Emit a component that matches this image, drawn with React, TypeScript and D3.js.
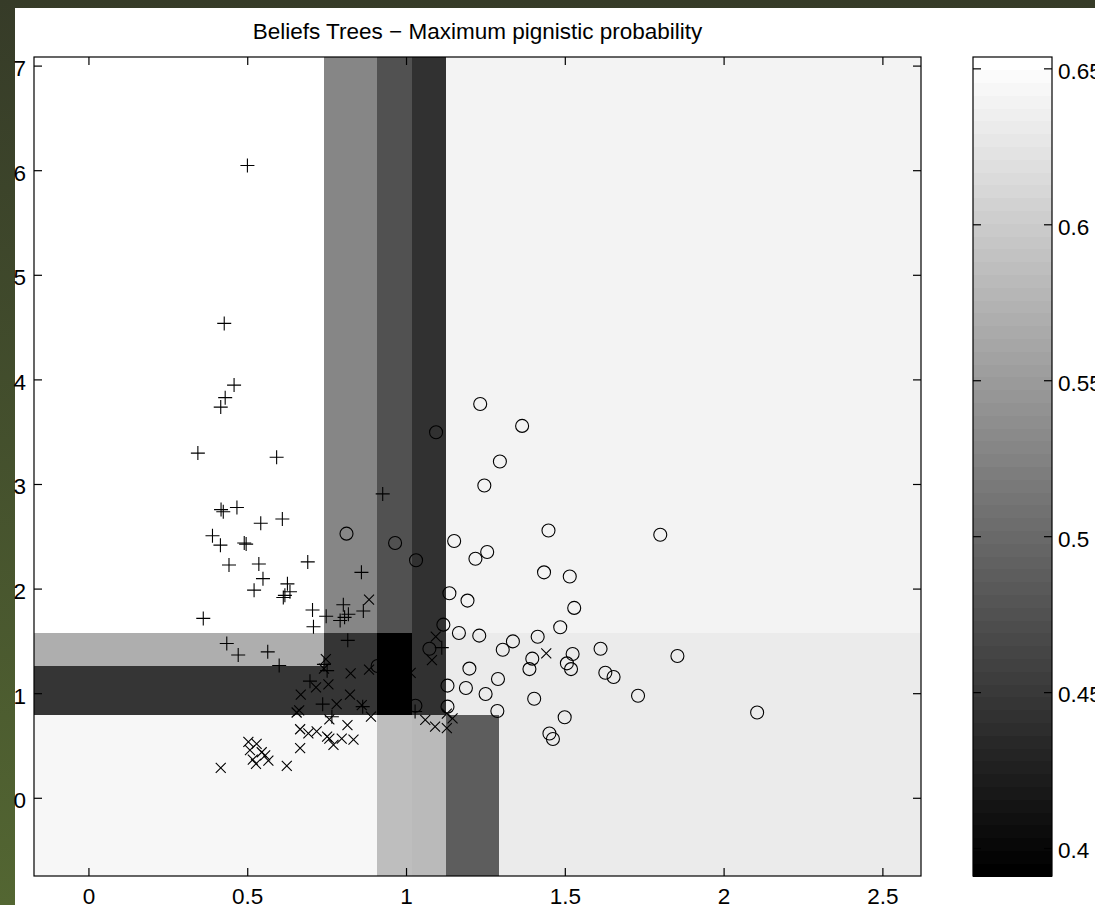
import * as d3 from 'd3';

// axis ticks
const xTicks = [0, 0.5, 1, 1.5, 2, 2.5];
const yTicks = [0, 1, 2, 3, 4, 5, 6, 7];
const cbTicks = [0.4, 0.45, 0.5, 0.55, 0.6, 0.65];

// axis limits
const xDomain = [-0.173, 2.62];
const yDomain = [-0.743, 7.087];

// tree split points
const xSplits = [0.739, 0.906, 1.016, 1.125, 1.292];
const ySplits = [0.8, 1.268, 1.583];

// maximum pignistic probability per cell, rows from bottom to top
const cellRow0 = [0.643, 0.643, 0.586, 0.582, 0.488, 0.631];
const cellRow1 = [0.447, 0.447, 0.3912, 0.443, 0.631, 0.631];
const cellRow2 = [0.57, 0.447, 0.3912, 0.443, 0.631, 0.631];
const cellRow3 = [0.6538, 0.529, 0.475, 0.443, 0.639, 0.639];

// class 1 (+)
const plusPts: [number, number][] = [
  [0.499, 6.05], [0.426, 4.54], [0.457, 3.95], [0.429, 3.83], [0.415, 3.74],
  [0.343, 3.3], [0.591, 3.26], [0.416, 2.76], [0.423, 2.74], [0.466, 2.78],
  [0.541, 2.63], [0.609, 2.67], [0.389, 2.51], [0.414, 2.42], [0.489, 2.44],
  [0.495, 2.43], [0.441, 2.23], [0.535, 2.24], [0.689, 2.26], [0.548, 2.1],
  [0.52, 1.99], [0.625, 2.05], [0.633, 1.975], [0.617, 1.94], [0.612, 1.92],
  [0.858, 2.16], [0.925, 2.91], [0.36, 1.72], [0.704, 1.8], [0.707, 1.64],
  [0.747, 1.74], [0.801, 1.85], [0.817, 1.76], [0.791, 1.7], [0.805, 1.73],
  [0.864, 1.79], [0.815, 1.51], [0.434, 1.48], [0.47, 1.37], [0.563, 1.4],
  [0.599, 1.27], [0.74, 1.28], [0.75, 1.22], [0.696, 1.12], [0.736, 0.9],
  [0.862, 0.876], [0.765, 0.78], [1.027, 0.83], [1.111, 1.44],
];

// class 2 (x)
const crossPts: [number, number][] = [
  [0.882, 1.9], [0.746, 1.33], [0.74, 1.24], [0.824, 1.195], [0.882, 1.23],
  [0.715, 1.06], [0.754, 1.09], [0.667, 0.99], [0.822, 0.99], [0.78, 0.9],
  [0.654, 0.82], [0.662, 0.84], [0.859, 0.89], [0.888, 0.78], [1.013, 1.2],
  [0.757, 0.755], [0.665, 0.66], [0.691, 0.62], [0.717, 0.64], [0.757, 0.57],
  [0.77, 0.51], [0.75, 0.59], [0.796, 0.57], [0.814, 0.7], [0.833, 0.56],
  [0.665, 0.48], [0.502, 0.54], [0.528, 0.52], [0.507, 0.46], [0.544, 0.44],
  [0.555, 0.41], [0.516, 0.37], [0.526, 0.33], [0.565, 0.36], [0.415, 0.29],
  [0.623, 0.31], [1.059, 0.75], [1.09, 0.685], [1.127, 0.67], [1.145, 0.765],
  [1.127, 0.81], [1.08, 1.32], [1.092, 1.545], [1.44, 1.386],
];

// class 3 (o)
const circlePts: [number, number][] = [
  [1.232, 3.77], [1.364, 3.56], [1.093, 3.5], [1.294, 3.22], [1.245, 2.99],
  [0.811, 2.53], [0.964, 2.44], [1.03, 2.275], [1.15, 2.46], [1.217, 2.29],
  [1.254, 2.355], [1.447, 2.56], [1.799, 2.52], [1.433, 2.16], [1.514, 2.12],
  [1.135, 1.96], [1.192, 1.89], [1.528, 1.82], [1.116, 1.66], [1.484, 1.635],
  [1.165, 1.58], [1.229, 1.555], [1.335, 1.5], [1.413, 1.545], [1.303, 1.42],
  [1.072, 1.43], [1.611, 1.43], [1.396, 1.335], [1.523, 1.38], [1.505, 1.29],
  [1.518, 1.235], [1.387, 1.235], [1.198, 1.24], [1.626, 1.2], [1.652, 1.16],
  [1.853, 1.36], [1.129, 1.077], [1.187, 1.055], [1.288, 1.14], [1.249, 0.997],
  [1.402, 0.952], [1.729, 0.98], [1.129, 0.876], [1.286, 0.835], [1.498, 0.775],
  [1.45, 0.62], [1.461, 0.567], [1.028, 0.885], [0.909, 1.265], [2.104, 0.82],
];

const W = 1095;
const H = 905;
const FONT = '"Liberation Sans", Arial, Helvetica, sans-serif';

const plot = { left: 34, right: 921, top: 57, bottom: 876 };
const cb = { left: 973, right: 1052 };

export default function App() {
  const x = d3.scaleLinear().domain(xDomain).range([plot.left, plot.right]);
  const y = d3.scaleLinear().domain(yDomain).range([plot.bottom, plot.top]);

  const rows = [cellRow0, cellRow1, cellRow2, cellRow3];
  const allVals = rows.flat();
  const [cmin, cmax] = d3.extent(allVals) as [number, number];

  // matlab gray(64)
  const nLev = 64;
  const grays = d3.range(nLev).map(i => {
    const g = Math.round((i / (nLev - 1)) * 255);
    return `rgb(${g},${g},${g})`;
  });
  const color = d3.scaleQuantize<string>().domain([cmin, cmax]).range(grays);
  const cy = d3.scaleLinear().domain([cmin, cmax]).range([plot.bottom, plot.top]);

  const xEdges = [xDomain[0], ...xSplits, xDomain[1]];
  const yEdges = [yDomain[0], ...ySplits, yDomain[1]];

  const cells: { x0: number; x1: number; y0: number; y1: number; v: number }[] = [];
  rows.forEach((row, i) => {
    row.forEach((v, j) => {
      cells.push({ x0: xEdges[j], x1: xEdges[j + 1], y0: yEdges[i], y1: yEdges[i + 1], v });
    });
  });

  const step = (cmax - cmin) / nLev;
  const tickLen = 8;

  return (
    <svg width={W} height={H} style={{ position: 'absolute', left: 0, top: 0, display: 'block' }}
      fontFamily={FONT}>
      <defs>
        <linearGradient id="desk" x1="0" y1="0" x2="0" y2="1">
          <stop offset="0%" stopColor="#363b28" />
          <stop offset="100%" stopColor="#536632" />
        </linearGradient>
      </defs>
      <rect x={0} y={0} width={W} height={H} fill="url(#desk)" />
      <rect x={15} y={8} width={W - 15} height={H - 8} fill="#ffffff" />

      {/* tree cells */}
      {cells.map((c, i) => (
        <rect key={'c' + i}
          x={x(c.x0)} y={y(c.y1)}
          width={x(c.x1) - x(c.x0)} height={y(c.y0) - y(c.y1)}
          fill={color(c.v)} shapeRendering="crispEdges" />
      ))}

      {/* points */}
      <g stroke="#000" strokeWidth={1.1} fill="none">
        {plusPts.map(([px, py], i) => (
          <path key={'p' + i}
            d={`M${x(px) - 7},${y(py)}H${x(px) + 7}M${x(px)},${y(py) - 7}V${y(py) + 7}`} />
        ))}
        {crossPts.map(([px, py], i) => (
          <path key={'x' + i}
            d={`M${x(px) - 5},${y(py) - 5}L${x(px) + 5},${y(py) + 5}M${x(px) - 5},${y(py) + 5}L${x(px) + 5},${y(py) - 5}`} />
        ))}
        {circlePts.map(([px, py], i) => (
          <circle key={'o' + i} cx={x(px)} cy={y(py)} r={6.5} />
        ))}
      </g>

      {/* axes box and ticks */}
      <g stroke="#000" strokeWidth={1.2} fill="none">
        <rect x={plot.left} y={plot.top} width={plot.right - plot.left} height={plot.bottom - plot.top} />
        {xTicks.map(t => (
          <g key={'xt' + t}>
            <line x1={x(t)} x2={x(t)} y1={plot.bottom} y2={plot.bottom - tickLen} />
            <line x1={x(t)} x2={x(t)} y1={plot.top} y2={plot.top + tickLen} />
          </g>
        ))}
        {yTicks.map(t => (
          <g key={'yt' + t}>
            <line x1={plot.left} x2={plot.left + tickLen} y1={y(t)} y2={y(t)} />
            <line x1={plot.right} x2={plot.right - tickLen} y1={y(t)} y2={y(t)} />
          </g>
        ))}
      </g>
      <g fontSize={22.5} fill="#000">
        {xTicks.map(t => (
          <text key={'xl' + t} x={x(t)} y={904} textAnchor="middle">{String(t)}</text>
        ))}
        {yTicks.map(t => (
          <text key={'yl' + t} x={26} y={y(t) + 2} dy="0.35em" textAnchor="end">{String(t)}</text>
        ))}
        <text x={(plot.left + plot.right) / 2} y={39} textAnchor="middle">
          Beliefs Trees − Maximum pignistic probability
        </text>
      </g>

      {/* colorbar */}
      {grays.map((g, i) => (
        <rect key={'cb' + i} x={cb.left} width={cb.right - cb.left}
          y={cy(cmin + (i + 1) * step)} height={cy(cmin + i * step) - cy(cmin + (i + 1) * step) + 0.5}
          fill={g} shapeRendering="crispEdges" />
      ))}
      <g stroke="#000" strokeWidth={1.2} fill="none">
        <rect x={cb.left} y={plot.top} width={cb.right - cb.left} height={plot.bottom - plot.top} />
        {cbTicks.map(t => (
          <g key={'ct' + t}>
            <line x1={cb.left} x2={cb.left + tickLen} y1={cy(t)} y2={cy(t)} />
            <line x1={cb.right} x2={cb.right - tickLen} y1={cy(t)} y2={cy(t)} />
          </g>
        ))}
      </g>
      <g fontSize={22.5} fill="#000">
        {cbTicks.map(t => (
          <text key={'cl' + t} x={cb.right + 6} y={cy(t) + 2} dy="0.35em">{String(t)}</text>
        ))}
      </g>
    </svg>
  );
}
